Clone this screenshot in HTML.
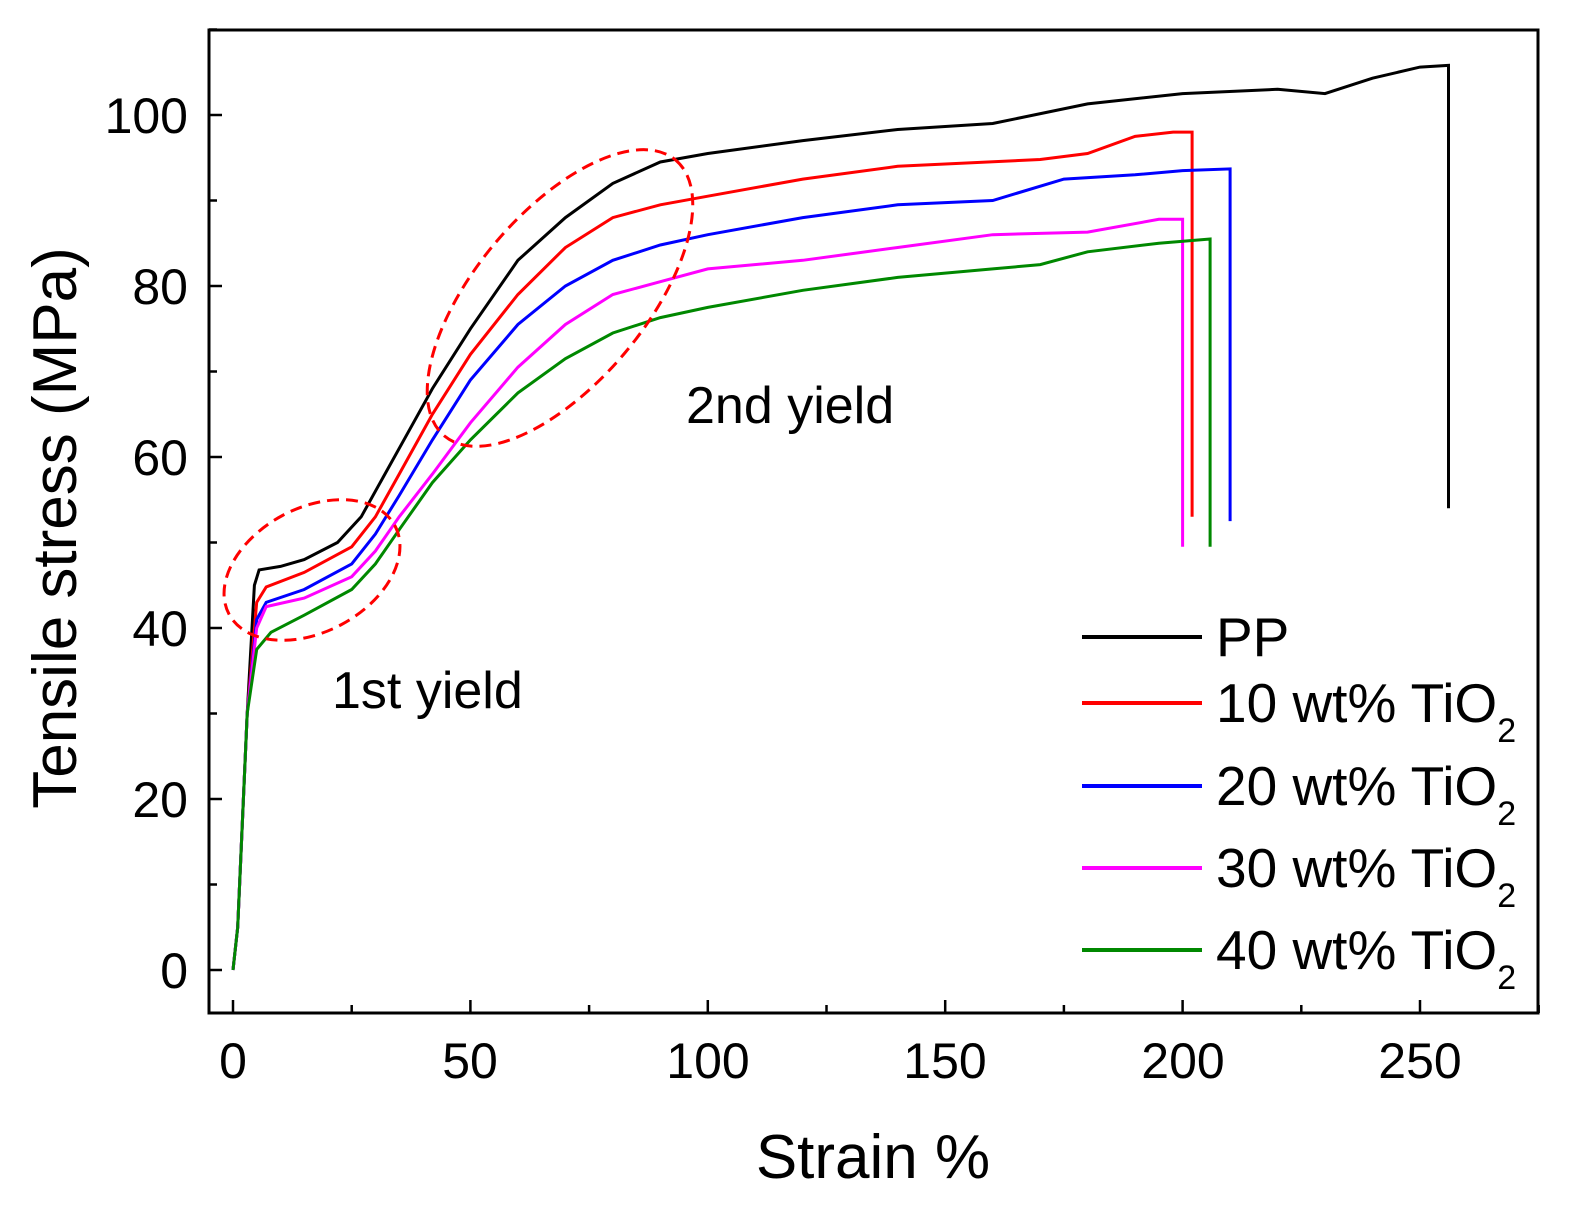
<!DOCTYPE html>
<html><head><meta charset="utf-8"><style>
html,body{margin:0;padding:0;background:#fff;}
svg{display:block;font-family:"Liberation Sans",Arial,sans-serif;}
</style></head><body>
<svg id="s" width="1575" height="1219" viewBox="0 0 1575 1219" xmlns="http://www.w3.org/2000/svg">
<rect x="209" y="30" width="1329" height="983" fill="none" stroke="#000" stroke-width="3"/>
<g id="ticks" stroke="#000" stroke-width="2.5"></g>
<g font-size="50" fill="#000">
<text x="233" y="1078" text-anchor="middle">0</text>
<text x="470" y="1078" text-anchor="middle">50</text>
<text x="708" y="1078" text-anchor="middle">100</text>
<text x="945" y="1078" text-anchor="middle">150</text>
<text x="1183" y="1078" text-anchor="middle">200</text>
<text x="1420" y="1078" text-anchor="middle">250</text>
<text x="188" y="988" text-anchor="end">0</text>
<text x="188" y="817" text-anchor="end">20</text>
<text x="188" y="646" text-anchor="end">40</text>
<text x="188" y="475" text-anchor="end">60</text>
<text x="188" y="304" text-anchor="end">80</text>
<text x="188" y="133" text-anchor="end">100</text>
</g>
<text x="873" y="1178" font-size="62" text-anchor="middle">Strain %</text>
<text transform="translate(76,528) rotate(-90)" font-size="62" text-anchor="middle">Tensile stress (MPa)</text>
<text x="332" y="708" font-size="52">1st yield</text>
<text x="686" y="423" font-size="52">2nd yield</text>
<g id="curves" fill="none" stroke-width="3"></g>
<ellipse cx="312" cy="570" rx="94" ry="62" transform="rotate(-28 312 570)" fill="none" stroke="#f00" stroke-width="3" stroke-dasharray="12,7"/>
<ellipse cx="560" cy="298" rx="180" ry="85" transform="rotate(-50 560 298)" fill="none" stroke="#f00" stroke-width="3" stroke-dasharray="12,7"/>
<g stroke-width="4">
<line x1="1082" y1="637" x2="1202" y2="637" stroke="#000"/>
<line x1="1082" y1="703" x2="1202" y2="703" stroke="#f00"/>
<line x1="1082" y1="786" x2="1202" y2="786" stroke="#00f"/>
<line x1="1082" y1="868" x2="1202" y2="868" stroke="#f0f"/>
<line x1="1082" y1="950" x2="1202" y2="950" stroke="#080"/>
</g>
<g font-size="55" fill="#000">
<text x="1216" y="656">PP</text>
<text x="1216" y="722">10 wt% TiO<tspan font-size="34" dy="20">2</tspan></text>
<text x="1216" y="805">20 wt% TiO<tspan font-size="34" dy="20">2</tspan></text>
<text x="1216" y="887">30 wt% TiO<tspan font-size="34" dy="20">2</tspan></text>
<text x="1216" y="969">40 wt% TiO<tspan font-size="34" dy="20">2</tspan></text>
</g>
</svg>
<script>
var X=function(s){return 233+4.748*s},Y=function(v){return 970-8.55*v};
var t='';
for(var s=0;s<=275;s+=25){var x=X(s);t+='<line x1="'+x+'" y1="1013" x2="'+x+'" y2="'+(s%50==0?1000:1005)+'"/>';}
for(var v=0;v<=110;v+=10){var y=Y(v);t+='<line x1="209" y1="'+y+'" x2="'+(v%20==0?222:217)+'" y2="'+y+'"/>';}
document.getElementById('ticks').innerHTML=t;
var C=[
['#000',[[0,0],[1,5],[3,30],[4.5,45],[5.5,46.8],[10,47.2],[15,48],[22,50],[27,53],[32,58],[37,63],[42,68],[50,75],[60,83],[70,88],[80,92],[90,94.5],[100,95.5],[120,97],[140,98.3],[160,99],[180,101.3],[200,102.5],[220,103],[230,102.5],[240,104.3],[250,105.6],[256,105.8],[256,54]]],
['#f00',[[0,0],[1,5],[3,30],[5,43],[7,44.8],[15,46.5],[25,49.5],[30,53],[35,58],[42,65],[50,72],[60,79],[70,84.5],[80,88],[90,89.5],[100,90.5],[120,92.5],[140,94],[170,94.8],[180,95.5],[190,97.5],[198,98],[202,98],[202,53]]],
['#00f',[[0,0],[1,5],[3,30],[5,41],[7,43],[15,44.5],[25,47.5],[30,51],[35,55.5],[42,62],[50,69],[60,75.5],[70,80],[80,83],[90,84.8],[100,86],[120,88],[140,89.5],[160,90],[175,92.5],[190,93],[200,93.5],[210,93.7],[210,52.5]]],
['#f0f',[[0,0],[1,5],[3,30],[5,40],[7,42.5],[15,43.5],[25,46],[30,49],[35,53],[42,58],[50,64],[60,70.5],[70,75.5],[80,79],[90,80.5],[100,82],[120,83],[140,84.5],[160,86],[180,86.3],[195,87.8],[200,87.8],[200,49.5]]],
['#080',[[0,0],[1,5],[3,30],[5,37.5],[8,39.5],[15,41.5],[25,44.5],[30,47.5],[35,51.5],[42,57],[50,62],[60,67.5],[70,71.5],[80,74.5],[90,76.3],[100,77.5],[120,79.5],[140,81],[160,82],[170,82.5],[180,84],[195,85],[205.8,85.5],[205.8,49.5]]]
];
var h='';
C.forEach(function(c){var p=c[1].map(function(q){return X(q[0]).toFixed(1)+','+Y(q[1]).toFixed(1)}).join(' ');h+='<polyline stroke="'+c[0]+'" points="'+p+'"/>';});
document.getElementById('curves').innerHTML=h;
</script>
</body></html>
